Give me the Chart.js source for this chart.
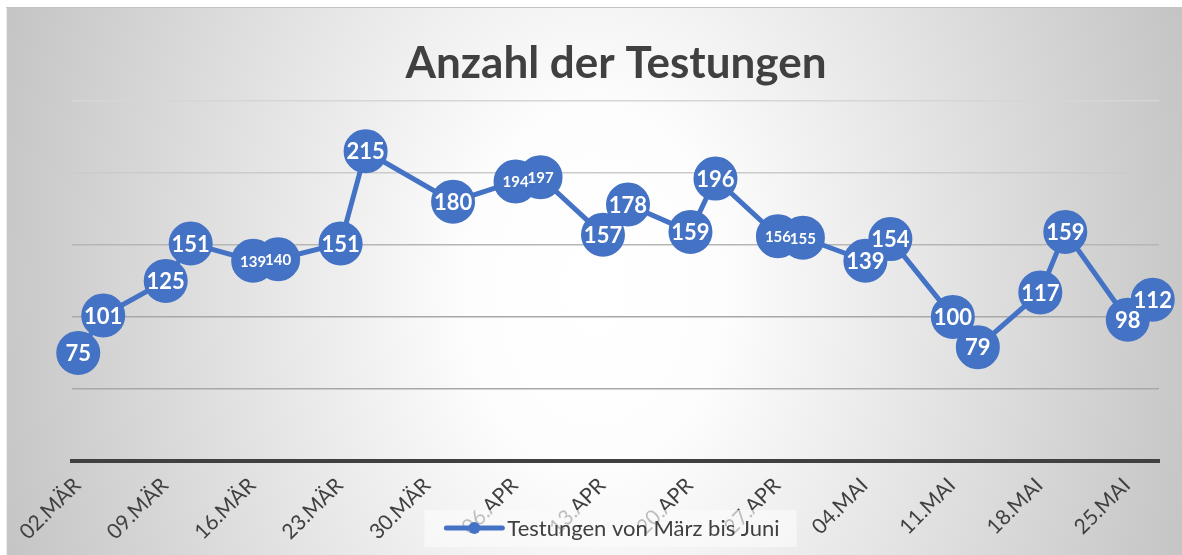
<!DOCTYPE html>
<html><head><meta charset="utf-8">
<script src="https://cdn.jsdelivr.net/npm/chart.js@4.4.0/dist/chart.umd.min.js"></script>
<style>html,body{margin:0;padding:0;background:#fff;overflow:hidden}canvas{display:block}</style>
</head><body>
<canvas id="c" width="1182" height="555"></canvas>
<script>
const chartTitle = 'Anzahl der Testungen';
const seriesName = 'Testungen von März bis Juni';
// day offsets counted from 02.03.
const dayOffsets = [0,2,7,9,14,16,21,23,30,35,37,42,44,49,51,56,58,63,65,70,72,77,79,84,86];
const tests = [75,101,125,151,139,140,151,215,180,194,197,157,178,159,196,156,155,139,154,100,79,117,159,98,112];
const tickDays = [0,7,14,21,28,35,42,49,56,63,70,77,84];
const tickLabels = ['02.MÄR','09.MÄR','16.MÄR','23.MÄR','30.MÄR','06.APR','13.APR','20.APR','27.APR','04.MAI','11.MAI','18.MAI','25.MAI'];
const yMin = 0, yMax = 250, yStep = 50;

const BLUE = '#4472C4';
const FONT = 'Lato';

const bgPlugin = {
  id: 'bg',
  beforeDraw(chart) {
    const {ctx, width, height} = chart;
    ctx.save();
    ctx.fillStyle = '#fff';
    ctx.fillRect(0, 0, width, height);
    ctx.beginPath(); ctx.rect(6, 7, width - 6, height - 7); ctx.clip();
    const cx = 594, cy = 290, rx = 640, ry = 900;
    ctx.translate(cx, cy); ctx.scale(1, ry / rx);
    const g = ctx.createRadialGradient(0, 0, 0, 0, 0, rx);
    g.addColorStop(0, '#ffffff');
    g.addColorStop(0.2, '#fdfdfd');
    g.addColorStop(1, '#c2c2c2');
    ctx.fillStyle = g;
    ctx.fillRect(-3000, -3000, 6000, 6000);
    ctx.restore();
    ctx.save();
    ctx.strokeStyle = '#c4c4c4'; ctx.lineWidth = 1;
    ctx.beginPath(); ctx.moveTo(6, 7.5); ctx.lineTo(width, 7.5); ctx.stroke();
    ctx.strokeStyle = '#eeeeee';
    ctx.beginPath(); ctx.moveTo(6.5, 8); ctx.lineTo(6.5, height); ctx.stroke();
    ctx.restore();
  }
};

const valueLabels = {
  id: 'valueLabels',
  afterDatasetsDraw(chart) {
    const ctx = chart.ctx;
    const pts = chart.getDatasetMeta(0).data;
    const vals = chart.data.datasets[0].data;
    ctx.save();
    ctx.fillStyle = '#ffffff';
    ctx.textAlign = 'center';
    ctx.textBaseline = 'middle';
    pts.forEach((p, i) => {
      const crowded = [pts[i - 1], pts[i + 1]].some(q => q && Math.hypot(q.x - p.x, q.y - p.y) < 28);
      ctx.font = 'bold ' + (crowded ? 15 : 22) + 'px ' + FONT;
      ctx.fillText(String(vals[i].y), p.x, p.y + 1);
    });
    ctx.restore();
  }
};

const bottomLegend = {
  id: 'bottomLegend',
  afterDraw(chart) {
    const ctx = chart.ctx;
    const ds = chart.data.datasets[0];
    ctx.save();
    ctx.font = '22px ' + FONT;
    const tw = ctx.measureText(ds.label).width;
    const sampleW = 56, gap = 5, padL = 22, padR = 17;
    const total = sampleW + gap + tw;
    const cx = 613, cy = 528;
    const x0 = cx - total / 2;
    ctx.fillStyle = 'rgba(250,250,250,0.68)';
    ctx.fillRect(x0 - padL, cy - 18, total + padL + padR, 37);
    ctx.strokeStyle = ds.borderColor; ctx.lineWidth = 5; ctx.lineCap = 'round';
    ctx.beginPath(); ctx.moveTo(x0, cy); ctx.lineTo(x0 + sampleW, cy); ctx.stroke();
    ctx.fillStyle = ds.pointBackgroundColor;
    ctx.beginPath(); ctx.arc(x0 + sampleW / 2, cy, 6, 0, Math.PI * 2); ctx.fill();
    ctx.fillStyle = '#404040'; ctx.textAlign = 'left'; ctx.textBaseline = 'middle';
    ctx.fillText(ds.label, x0 + sampleW + gap, cy + 1);
    ctx.restore();
  }
};

const gridColors = {250: '#d6d6d6', 200: '#cbcbcb', 150: '#b6b6b6', 100: '#a8a8a8', 50: '#a8a8a8', 0: 'rgba(0,0,0,0)'};

new Chart(document.getElementById('c'), {
  type: 'line',
  data: {
    datasets: [{
      label: seriesName,
      data: dayOffsets.map((d, i) => ({x: d, y: tests[i]})),
      borderColor: BLUE,
      backgroundColor: BLUE,
      borderWidth: 5,
      tension: 0,
      pointRadius: 21,
      pointBorderWidth: 2,
      pointBorderColor: BLUE,
      pointBackgroundColor: BLUE,
      clip: false
    }]
  },
  options: {
    responsive: false,
    animation: false,
    events: [],
    layout: {padding: {left: 72, right: 22, top: 37, bottom: 0}},
    plugins: {
      legend: {display: false},
      tooltip: {enabled: false},
      title: {
        display: true,
        text: chartTitle,
        color: '#404040',
        font: {family: FONT, size: 44, weight: 'bold'},
        padding: {top: 0, bottom: 11}
      }
    },
    scales: {
      x: {
        type: 'linear',
        min: -0.5,
        max: 86.5,
        afterBuildTicks(s) { s.ticks = tickDays.map(v => ({value: v})); },
        afterFit(s) { s.height = 94; },
        grid: {display: false, drawTicks: false},
        border: {display: true, color: '#404040', width: 4},
        ticks: {
          autoSkip: false,
          minRotation: 45,
          maxRotation: 45,
          padding: 12,
          labelOffset: -1,
          color: '#404040',
          font: {family: FONT, size: 21},
          callback: (v) => tickLabels[tickDays.indexOf(v)]
        }
      },
      y: {
        min: yMin,
        max: yMax,
        ticks: {display: false, stepSize: yStep},
        border: {display: false},
        grid: {
          drawTicks: false,
          lineWidth: 1.5,
          color: (c) => gridColors[c.tick.value] || '#b0b0b0'
        }
      }
    }
  },
  plugins: [bgPlugin, valueLabels, bottomLegend]
});
</script>
</body></html>
